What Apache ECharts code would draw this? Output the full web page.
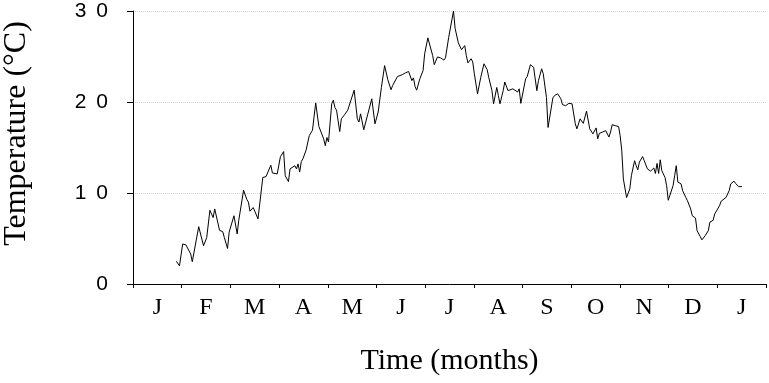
<!DOCTYPE html>
<html>
<head>
<meta charset="utf-8">
<script src="https://cdn.jsdelivr.net/npm/echarts@6/dist/echarts.min.js"></script>
<style>
  html, body { margin: 0; padding: 0; background: #fff; }
  #chart { width: 769px; height: 383px; }
</style>
</head>
<body>
<div id="chart"></div>
<script>
// month labels along the bottom (13 month slots, J .. J)
const monthLabels = ["J", "F", "M", "A", "M", "J", "J", "A", "S", "O", "N", "D", "J"];
const yTicks = [0, 10, 20, 30];
const axisDays = 395; // 13 month slots in days

// daily temperature, [day from start of axis, °C]
const dailyTemps = [
  [27, 2.5], [29, 2.0], [31, 4.4], [33, 4.3], [34, 4.5], [36, 3.3], [37, 2.45], [38, 2.6], [41, 6.3], [44, 4.2],
  [46, 5.1], [48, 8.1], [50, 7.3], [51, 8.25], [52, 8.1], [54, 5.9], [56, 5.75], [57, 5.1], [59, 3.9], [60, 5.7],
  [61, 5.6], [63, 7.5], [65, 5.5], [66, 7.0], [69, 10.3], [71, 9.3], [72, 9.0], [73, 8.0], [75, 8.4], [76, 8.0],
  [78, 7.15], [81, 11.7], [82, 11.85], [83, 11.8], [86, 13.05], [87, 12.2], [90, 12.1], [92, 14.0], [94, 14.55], [95, 11.9],
  [97, 11.25], [98, 12.65], [99, 12.75], [101, 13.0], [102, 12.65], [103, 13.2], [104, 12.3], [105, 13.45], [106, 13.75], [108, 14.7],
  [110, 16.3], [112, 16.9], [114, 19.9], [116, 17.3], [117, 17.1], [119, 15.95], [120, 15.2], [121, 16.1], [122, 15.6], [124, 19.8],
  [125, 20.2], [126, 19.4], [127, 19.1], [129, 16.75], [130, 18.15], [132, 18.6], [134, 19.1], [136, 20.2], [138, 21.3], [139, 21.1],
  [140, 18.15], [141, 17.8], [142, 18.7], [144, 16.95], [145, 16.9], [149, 20.35], [151, 17.6], [153, 18.9], [155, 21.6], [157, 24.0],
  [159, 22.45], [161, 21.35], [162, 21.8], [165, 22.8], [168, 23.0], [170, 23.2], [172, 23.35], [174, 22.35], [175, 22.65], [176, 21.7],
  [177, 21.3], [179, 22.55], [181, 23.45], [182, 25.3], [184, 27.05], [185, 26.95], [187, 25.1], [188, 24.1], [190, 24.95], [192, 24.85],
  [194, 24.6], [195, 24.85], [197, 27.1], [200, 30.0], [201, 28.1], [202, 28.0], [203, 26.5], [205, 25.75], [206, 25.85], [207, 26.2],
  [208, 25.1], [209, 24.3], [211, 24.75], [212, 24.4], [213, 23.1], [215, 20.9], [217, 22.7], [219, 24.2], [221, 23.55], [222, 22.7],
  [224, 21.25], [225, 19.8], [227, 21.6], [228, 20.7], [229, 19.8], [231, 21.25], [232, 22.2], [233, 22.05], [234, 21.25], [235, 21.45],
  [237, 21.45], [238, 21.25], [240, 21.1], [241, 21.45], [242, 19.85], [243, 19.95], [245, 22.55], [246, 22.8], [247, 22.7], [248, 24.1],
  [250, 23.8], [251, 23.9], [252, 21.25], [253, 22.35], [255, 23.65], [256, 23.1], [258, 20.5], [259, 17.2], [260, 17.4], [262, 20.45],
  [263, 20.7], [265, 20.9], [267, 20.35], [268, 19.7], [270, 19.6], [272, 19.85], [274, 19.8], [276, 17.6], [277, 17.05], [279, 18.15],
  [281, 17.65], [283, 19.0], [284, 19.0], [285, 17.05], [287, 16.5], [288, 16.3], [289, 17.15], [290, 15.95], [291, 16.55], [293, 16.7],
  [294, 16.7], [295, 16.85], [296, 16.7], [297, 16.15], [298, 16.7], [299, 17.5], [301, 17.4], [303, 17.3], [304, 16.3], [305, 14.65],
  [306, 11.55], [308, 9.5], [310, 10.45], [311, 11.9], [313, 13.55], [314, 13.0], [315, 12.55], [316, 13.4], [318, 14.0], [319, 13.55],
  [321, 12.65], [322, 12.55], [323, 12.4], [325, 12.75], [326, 12.15], [327, 13.25], [328, 12.15], [329, 13.65], [330, 12.45], [332, 11.7],
  [333, 10.8], [334, 9.2], [335, 9.35], [337, 10.8], [338, 11.9], [339, 13.0], [340, 11.2], [342, 11.0], [343, 10.25], [345, 9.5],
  [346, 9.15], [348, 8.25], [349, 7.5], [351, 7.25], [352, 5.85], [354, 5.2], [355, 4.85], [357, 5.3], [359, 5.85], [360, 6.8],
  [362, 7.0], [363, 7.7], [364, 7.9], [366, 8.6], [367, 9.1], [368, 9.0], [370, 9.5], [372, 10.25], [373, 11.0], [375, 11.3],
  [376, 11.05], [378, 10.7], [379, 10.55], [380, 10.7]
];

const chart = echarts.init(document.getElementById("chart"));

const serif = "'Liberation Serif', 'Times New Roman', serif";
const sans = "'Liberation Sans', Arial, sans-serif";

// the tick numbers are printed with wide letter spacing
const spacedNumber = (v) => {
  const s = String(v);
  return s.split("").map((c, i) => (i < s.length - 1 ? "{g|" + c + "}" : "{d|" + c + "}")).join("");
};

const option = {
  animation: false,
  grid: { left: 133, right: 3, top: 11, bottom: 99, containLabel: false, outerBoundsMode: "none" },
  xAxis: [
    {
      type: "category",
      data: monthLabels,
      boundaryGap: true,
      name: "Time (months)",
      nameLocation: "middle",
      nameGap: 62,
      nameTextStyle: { fontFamily: serif, fontSize: 30, color: "#000" },
      axisLine: { lineStyle: { color: "#000", width: 1 } },
      axisTick: { show: true, length: 4, lineStyle: { color: "#000" } },
      axisLabel: { fontFamily: serif, fontSize: 24, color: "#000", margin: 12 },
      splitLine: { show: false },
    },
    {
      type: "value",
      min: 0,
      max: axisDays,
      show: false,
    },
  ],
  yAxis: {
    type: "value",
    min: yTicks[0],
    max: yTicks[yTicks.length - 1],
    interval: 10,
    name: "Temperature (°C)",
    nameLocation: "middle",
    nameGap: 100,
    nameTextStyle: { fontFamily: serif, fontSize: 32, color: "#000", padding: [0, 0, 0, 28] },
    axisLine: { show: true, lineStyle: { color: "#000", width: 1 } },
    axisTick: { show: true, length: 6, lineStyle: { color: "#000" } },
    axisLabel: {
      margin: 25,
      formatter: spacedNumber,
      rich: {
        g: { fontFamily: sans, fontSize: 21, color: "#000", padding: [0, 10, 0, 0] },
        d: { fontFamily: sans, fontSize: 21, color: "#000" },
      },
    },
    splitLine: { show: true, lineStyle: { color: "#d4d4d4", width: 1, type: "dotted" } },
  },
  series: [
    {
      type: "line",
      xAxisIndex: 1,
      data: dailyTemps,
      showSymbol: false,
      smooth: false,
      lineStyle: { color: "#000", width: 1 },
    },
  ],
};

chart.setOption(option);
</script>
</body>
</html>
